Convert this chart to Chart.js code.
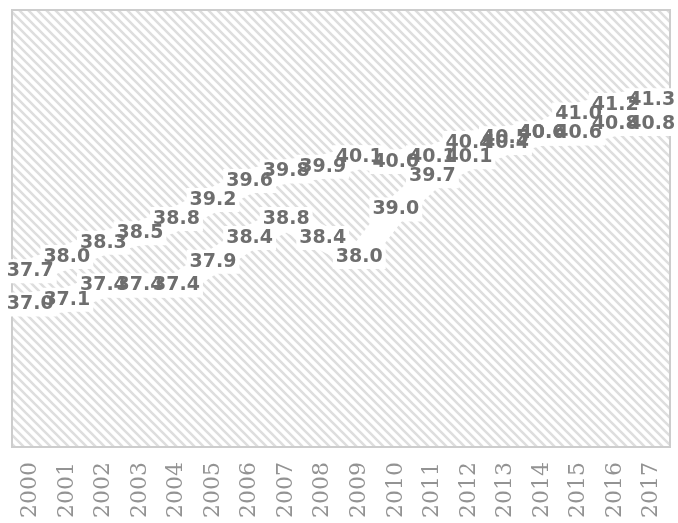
<!DOCTYPE html>
<html>
<head>
<meta charset="utf-8">
<script src="https://cdn.jsdelivr.net/npm/chart.js@4.4.1/dist/chart.umd.min.js"></script>
<style>
  html, body { margin: 0; padding: 0; background: #ffffff; }
  #c { display: block; }
</style>
</head>
<body>
<canvas id="c" width="678" height="523"></canvas>
<script>
// Years on the category axis
const years = ['2000', '2001', '2002', '2003', '2004', '2005', '2006', '2007', '2008',
               '2009', '2010', '2011', '2012', '2013', '2014', '2015', '2016', '2017'];

// Upper series values
const upperSeries = [37.7, 38.0, 38.3, 38.5, 38.8, 39.2, 39.6, 39.8, 39.9,
                     40.1, 40.0, 40.1, 40.4, 40.5, 40.6, 41.0, 41.2, 41.3];

// Lower series values
const lowerSeries = [37.0, 37.1, 37.4, 37.4, 37.4, 37.9, 38.4, 38.8, 38.4,
                     38.0, 39.0, 39.7, 40.1, 40.4, 40.6, 40.6, 40.8, 40.8];

// Value axis range
const yMin = 34;
const yMax = 43.2;

// Diagonal hatch tile used to fill the plot area
function makeHatch() {
  const s = 9;
  const tile = document.createElement('canvas');
  tile.width = s;
  tile.height = s;
  const g = tile.getContext('2d');
  g.fillStyle = '#ffffff';
  g.fillRect(0, 0, s, s);
  g.strokeStyle = '#dedede';
  g.lineWidth = 2.6;
  g.beginPath();
  for (const k of [-s, 0, s]) {
    g.moveTo(k - 2, -2);
    g.lineTo(k + s + 2, s + 2);
  }
  g.stroke();
  return tile;
}

const plotBackground = {
  id: 'plotBackground',
  beforeDatasetsDraw(chart) {
    const { ctx, chartArea: a } = chart;
    ctx.save();
    ctx.fillStyle = ctx.createPattern(makeHatch(), 'repeat');
    ctx.fillRect(a.left, a.top, a.right - a.left, a.bottom - a.top);
    ctx.strokeStyle = '#cdcdcd';
    ctx.lineWidth = 2;
    ctx.strokeRect(a.left, a.top, a.right - a.left, a.bottom - a.top);
    ctx.restore();
  }
};

// Value labels: white boxes first, then every text on top
const valueLabels = {
  id: 'valueLabels',
  afterDatasetsDraw(chart) {
    const ctx = chart.ctx;
    const font = 'bold 19px "DejaVu Sans", sans-serif';
    const items = [];
    ctx.save();
    ctx.font = font;
    chart.data.datasets.forEach((ds, di) => {
      const meta = chart.getDatasetMeta(di);
      meta.data.forEach((pt, i) => {
        const text = ds.data[i].toFixed(1);
        const w = ctx.measureText(text).width;
        items.push({ x: pt.x, y: pt.y, w, text });
      });
    });
    ctx.fillStyle = '#ffffff';
    items.forEach(it => {
      ctx.fillRect(it.x - it.w / 2 - 3, it.y - 12, it.w + 6, 24);
    });
    ctx.fillStyle = '#6e6e6e';
    ctx.textAlign = 'center';
    ctx.textBaseline = 'middle';
    items.forEach(it => {
      ctx.fillText(it.text, it.x, it.y);
    });
    ctx.restore();
  }
};

const band = {
  borderColor: '#ffffff',
  borderWidth: 24,
  borderJoinStyle: 'round',
  borderCapStyle: 'round',
  pointRadius: 0,
  tension: 0,
  fill: false,
  clip: false
};

new Chart(document.getElementById('c'), {
  type: 'line',
  data: {
    labels: years,
    datasets: [
      Object.assign({ label: 'upper', data: upperSeries }, band),
      Object.assign({ label: 'lower', data: lowerSeries }, band)
    ]
  },
  options: {
    responsive: false,
    devicePixelRatio: 1,
    animation: false,
    layout: { padding: { left: 12, right: 8, top: 10, bottom: 0 } },
    plugins: {
      legend: { display: false },
      tooltip: { enabled: false }
    },
    scales: {
      x: {
        offset: true,
        grid: { display: false, drawTicks: false },
        border: { display: false },
        ticks: {
          autoSkip: false,
          minRotation: 90,
          maxRotation: 90,
          padding: 15,
          color: '#939393',
          font: { family: '"DejaVu Serif", serif', size: 22 }
        },
        afterFit(scale) {
          scale.height = 76;
          scale.paddingLeft = 0;
          scale.paddingRight = 0;
        }
      },
      y: {
        display: false,
        min: yMin,
        max: yMax
      }
    }
  },
  plugins: [plotBackground, valueLabels]
});
</script>
</body>
</html>
